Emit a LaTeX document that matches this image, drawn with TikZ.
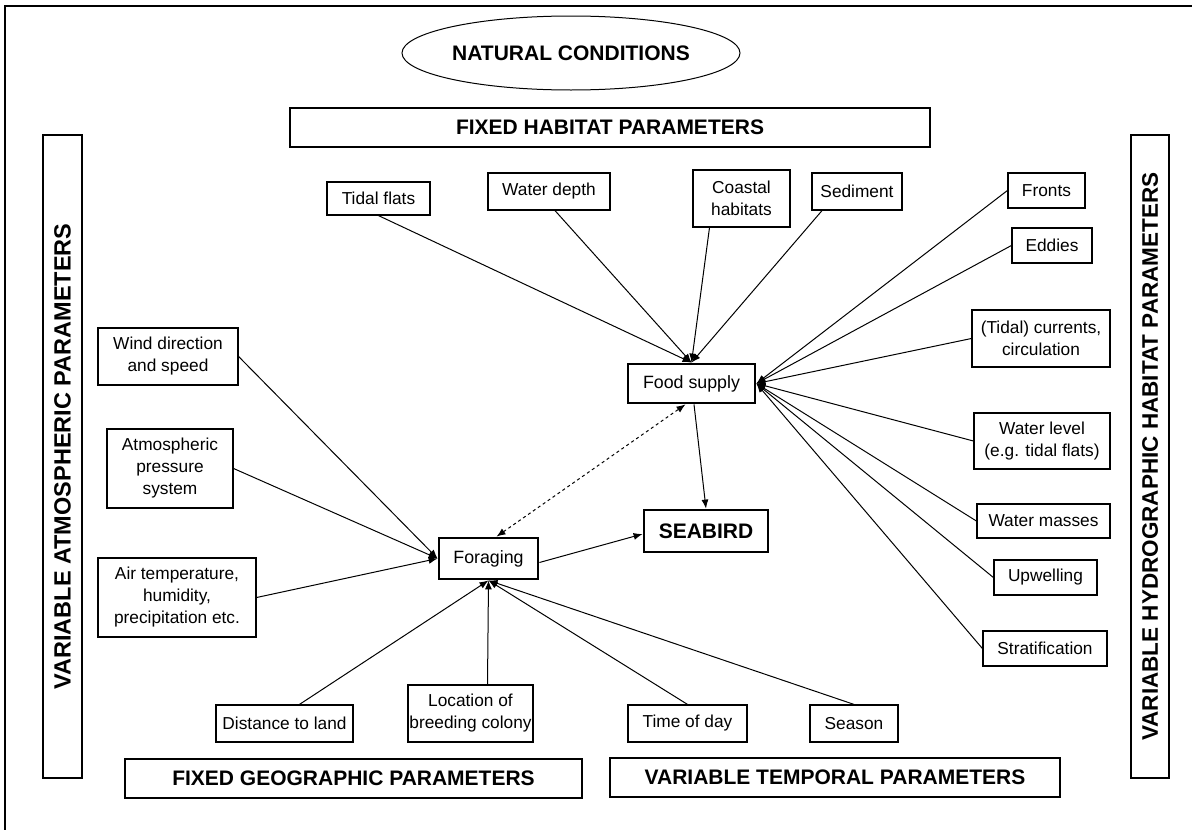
\documentclass[tikz,border=0pt]{standalone}
\usepackage{fontspec}
\setmainfont{Liberation Sans}
\usetikzlibrary{shapes.geometric,arrows.meta,calc}

\tikzset{every picture/.style={line width=1pt}}
\tikzset{
  factor/.style={draw, line width=1.2pt, align=center, inner sep=0pt,
    font=\fontsize{17.3}{22}\selectfont},
  group/.style={draw, line width=2.8pt, inner sep=0pt,
    font=\fontsize{21}{24}\selectfont\bfseries},
  hub/.style={draw, line width=2.8pt, inner sep=0pt,
    font=\fontsize{17.8}{22}\selectfont},
  link/.style={line width=1pt, -{Latex[length=9pt,width=7pt]}},
}

\begin{document}
\begin{tikzpicture}[x=1pt,y=1pt,yscale=-1,xscale=1]
\useasboundingbox (0,0) rectangle (1192,830);
% frame
\draw[line width=1.2pt] (5,6) rectangle (1210,850);

% headings
\node[draw, ellipse, line width=1pt, minimum width=338, minimum height=74,
  inner sep=0pt, font=\fontsize{21}{24}\selectfont\bfseries] (natural) at (571,53) {NATURAL CONDITIONS};
\node[group, minimum width=640, minimum height=39] (fixhab) at (610,127.5) {FIXED HABITAT PARAMETERS};
\node[group, rotate=90, minimum width=643, minimum height=39,
  font=\fontsize{23.5}{26}\selectfont\bfseries] (atmos) at (62.5,456.5) {VARIABLE ATMOSPHERIC PARAMETERS};
\node[group, rotate=90, minimum width=643, minimum height=38,
  font=\fontsize{22.5}{26}\selectfont\bfseries] (hydro) at (1150,456.5) {VARIABLE HYDROGRAPHIC HABITAT PARAMETERS};
\node[group, minimum width=457, minimum height=39] (fixgeo) at (353.5,778.5) {FIXED GEOGRAPHIC PARAMETERS};
\node[group, minimum width=450, minimum height=39] (temporal) at (835,777.5) {VARIABLE TEMPORAL PARAMETERS};

% hubs
\node[hub, minimum width=127, minimum height=39] (food) at (691.5,383.5) {Food supply};
\node[hub, minimum width=99, minimum height=41] (forage) at (488.5,558.5) {Foraging};
\node[group, minimum width=124, minimum height=42] (seabird) at (706,531) {SEABIRD};

% fixed habitat factors
\node[factor, minimum width=103, minimum height=33] (tidal) at (378.5,198.5) {Tidal flats};
\node[factor, minimum width=122, minimum height=37] (depth) at (549,191.5) {Water depth};
\node[factor, minimum width=97, minimum height=57] (coastal) at (741.5,198.5) {Coastal\\habitats};
\node[factor, minimum width=90, minimum height=37] (sediment) at (857,191.5) {Sediment};

% hydrographic factors
\node[factor, minimum width=77, minimum height=35] (fronts) at (1046.5,190.5) {Fronts};
\node[factor, minimum width=80, minimum height=35] (eddies) at (1052,245.5) {Eddies};
\node[factor, minimum width=138, minimum height=57] (currents) at (1041,338.5) {(Tidal) currents,\\circulation};
\node[factor, minimum width=136, minimum height=56] (level) at (1042,441) {Water level\\(e.g. tidal flats)};
\node[factor, minimum width=133, minimum height=34] (masses) at (1043.5,521) {Water masses};
\node[factor, minimum width=103, minimum height=35] (upwelling) at (1045.5,577.5) {Upwelling};
\node[factor, minimum width=124, minimum height=35] (strat) at (1045,648.5) {Stratification};

% atmospheric factors
\node[factor, minimum width=140, minimum height=57] (wind) at (168,356.5) {Wind direction\\and speed};
\node[factor, minimum width=126, minimum height=79] (pressure) at (170,468.5) {Atmospheric\\pressure\\system};
\node[factor, minimum width=158, minimum height=79] (airtemp) at (177,597.5) {Air temperature,\\humidity,\\precipitation etc.};

% geographic and temporal factors
\node[factor, minimum width=137, minimum height=37] (distance) at (284.5,723.5) {Distance to land};
\node[factor, minimum width=125, minimum height=57] (colony) at (470.5,713.5) {Location of\\breeding colony};
\node[factor, minimum width=119, minimum height=37] (daytime) at (687.5,723.5) {Time of day};
\node[factor, minimum width=88, minimum height=37] (season) at (854,723.5) {Season};

% links to food supply
\draw[link] (tidal.south) -- (food.north);
\draw[link] ([xshift=6]depth.south) -- (food.north);
\draw[link] ([xshift=-32]coastal.south) -- (food.north);
\draw[link] ([xshift=-35]sediment.south) -- (food.north);
\foreach \f in {fronts,eddies,currents,level,masses,upwelling,strat}
  \draw[link] (\f.west) -- (food.east);

% links to foraging
\foreach \f in {wind,pressure,airtemp}
  \draw[link] (\f.east) -- (forage.west);
\draw[link] ([xshift=15]distance.north) -- (forage.south);
\draw[link] ([xshift=17]colony.north) -- (forage.south);
\draw[link] (daytime.north) -- (forage.south);
\draw[link] (season.north) -- (forage.south);

% links to seabird
\draw[link, {Latex[length=9pt,width=7pt]}-{Latex[length=9pt,width=7pt]}, dashed]
  ([xshift=8]forage.north) -- ([xshift=-6]food.south);
\draw[link] ([xshift=2.5]food.south) -- (seabird.north);
\draw[link] ($(forage.east)+(0,4)$) -- ($(seabird.west)+(0,3)$);
\end{tikzpicture}
\end{document}
